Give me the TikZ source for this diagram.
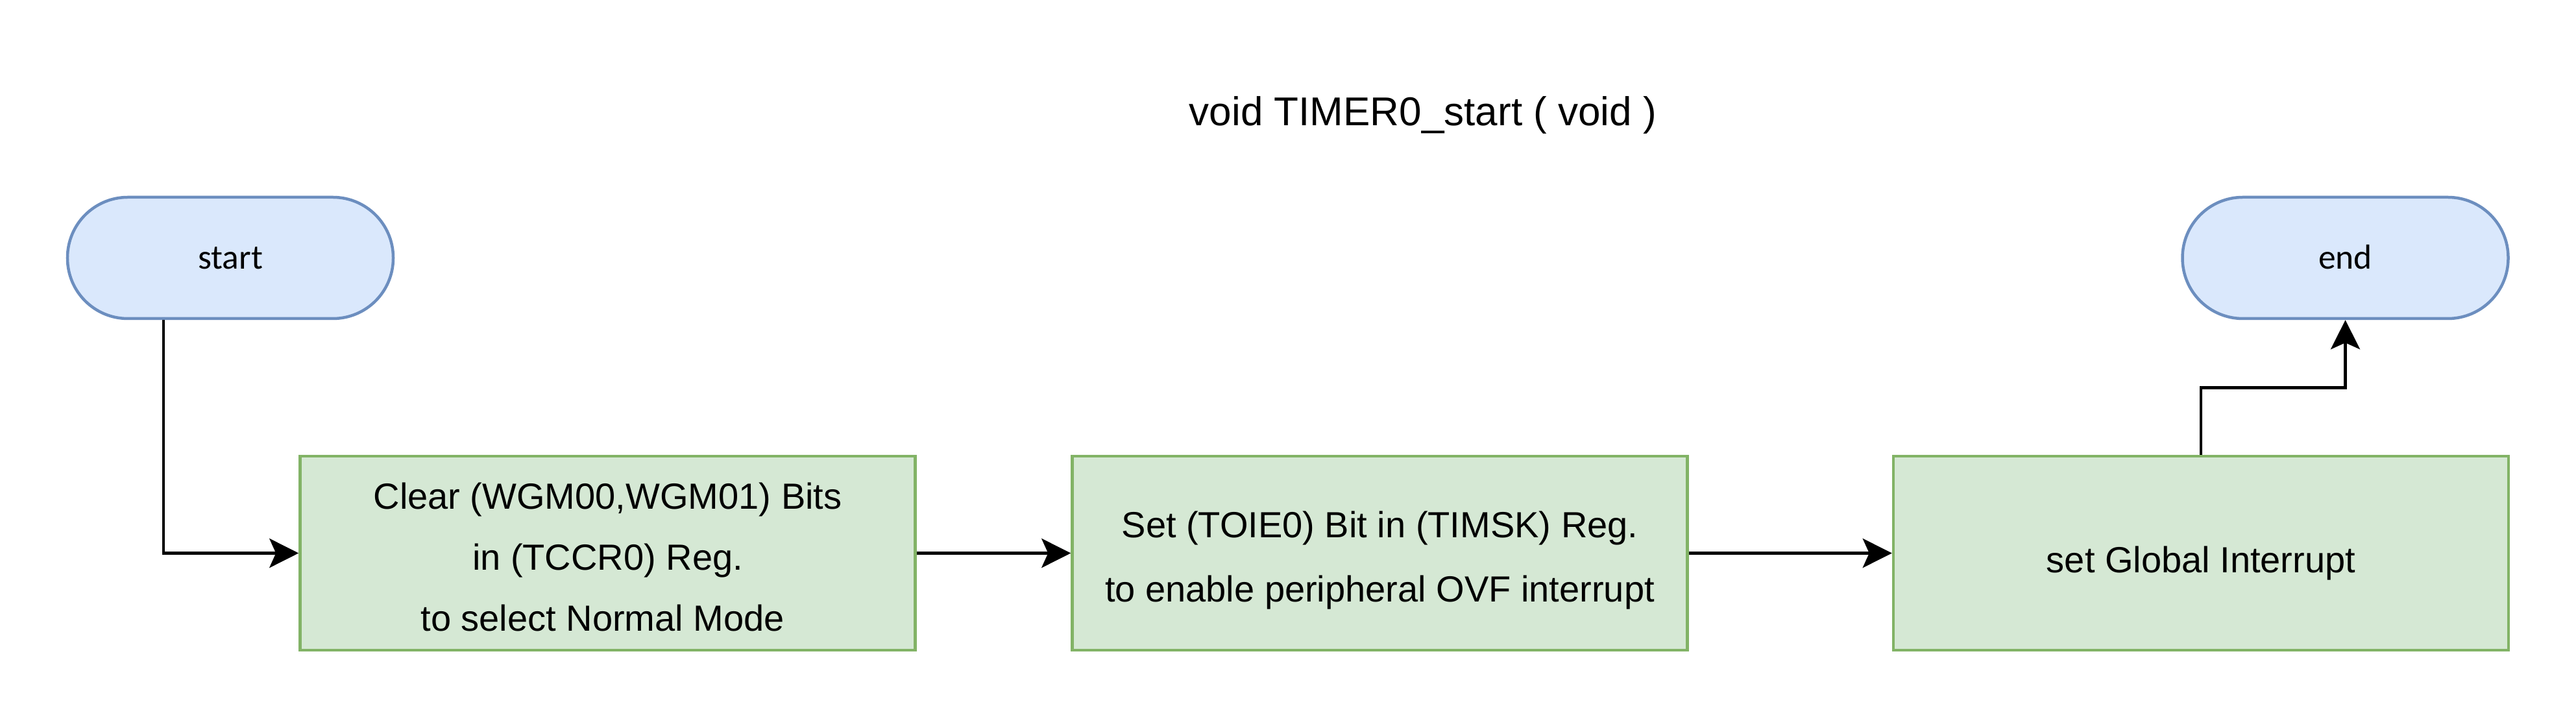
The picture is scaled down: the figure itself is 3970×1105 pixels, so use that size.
\documentclass[tikz,border=0pt]{standalone}
\usepackage{fontspec}
\setmainfont{Liberation Sans}
\newfontfamily\calib{Carlito}
\usetikzlibrary{arrows.meta}
\definecolor{bfill}{HTML}{DAE8FC}
\definecolor{bdraw}{HTML}{6C8EBF}
\definecolor{gfill}{HTML}{D5E8D4}
\definecolor{gdraw}{HTML}{82B366}
\begin{document}
\begin{tikzpicture}[x=0.2pt,y=0.2pt,
  term/.style={draw=bdraw, fill=bfill, line width=0.9pt, rounded corners=18.6pt,
    minimum width=100.4pt, minimum height=37.4pt, inner sep=0pt,
    font=\calib\fontsize{10.7pt}{12pt}\selectfont, text height=7pt, text depth=0pt},
  stepbox/.style={draw=gdraw, fill=gfill, line width=0.9pt,
    minimum width=189.6pt, minimum height=59.8pt, inner sep=0pt, align=center},
  conn/.style={line width=0.9pt, -{Stealth[length=9pt,width=9pt,inset=2pt]}},
]
\fill[white] (0,0) rectangle (3970,1105);
\useasboundingbox (0,0) rectangle (3970,1105);

\node[anchor=base, font=\fontsize{12.4pt}{14pt}\selectfont] (title) at (2193,911) {void TIMER0\_start ( void )};

\node[term] (start) at (355,707.5) {start};
\node[term] (end) at (3614.5,707.5) {end};

\node[stepbox, font=\fontsize{11.2pt}{18.8pt}\selectfont] (box1) at (936.5,252.5)
  {\rule{0pt}{13.6pt}Clear (WGM00,WGM01) Bits\\in (TCCR0) Reg.\\to select Normal Mode\hspace{0.28em}\rule[-3pt]{0pt}{3pt}};
\node[stepbox, font=\fontsize{11.2pt}{19.8pt}\selectfont] (box2) at (2126.5,252.5)
  {\rule{0pt}{13.4pt}Set (TOIE0) Bit in (TIMSK) Reg.\hspace{0.28em}\\to enable peripheral OVF interrupt\rule[-3pt]{0pt}{3pt}};
\node[stepbox, font=\fontsize{11.2pt}{14pt}\selectfont, text height=15.2pt, text depth=3pt] (box3) at (3392,252.5)
  {set Global Interrupt};

\coordinate (bend) at (3392,507.5);

\draw[conn] ([xshift=-20.6pt]start.south) |- (box1.west);
\draw[conn] (box1.east) -- (box2.west);
\draw[conn] (box2.east) -- (box3.west);
\draw[conn] (box3.north) -- (bend) -| (end.south);
\end{tikzpicture}
\end{document}
